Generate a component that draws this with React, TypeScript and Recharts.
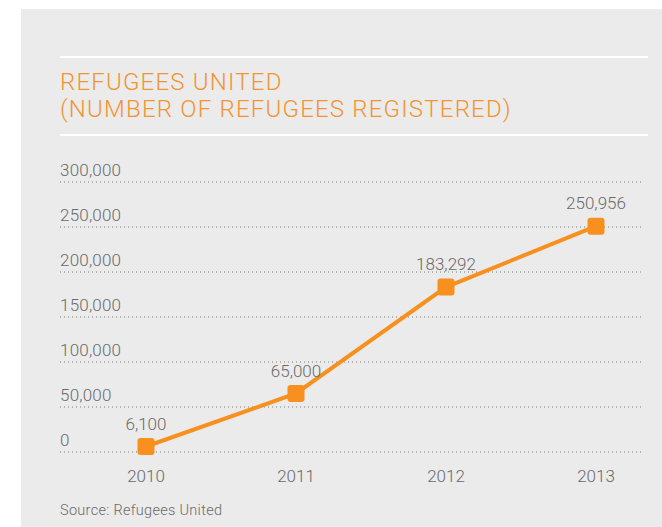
import React from "react";
import { LineChart, Line, XAxis, YAxis, CartesianGrid, LabelList } from "recharts";

const years = ["2010", "2011", "2012", "2013"];
const refugees = [6100, 65000, 183292, 250956];
const yTicks = [0, 50000, 100000, 150000, 200000, 250000, 300000];

const data = years.map((year, i) => ({ year, value: refugees[i] }));

const ORANGE = "#f7901e";
const TITLE = "#f39433";
const GRAY = "#6a6a6a";
const FONT = "Roboto, 'Liberation Sans', Arial, Helvetica, sans-serif";
const TITLE_FONT = "Roboto, 'Liberation Sans', Arial, sans-serif";

const fmt = (v: number) => v.toLocaleString("en-US");

const YTick = (props: any) => {
  const { y, payload } = props;
  return (
    <text x={60} y={y - 6} textAnchor="start" fill={GRAY} fontSize={17} fontWeight={300} fontFamily={FONT} letterSpacing={0.2}>
      {fmt(payload.value)}
    </text>
  );
};

const XTick = (props: any) => {
  const { x, y, payload } = props;
  return (
    <text x={x} y={y + 30} textAnchor="middle" fill={GRAY} fontSize={17} fontWeight={300} fontFamily={FONT}>
      {payload.value}
    </text>
  );
};

const SquareDot = (props: any) => {
  const { cx, cy, index } = props;
  const s = 17;
  return <rect key={index} x={cx - s / 2} y={cy - s / 2} width={s} height={s} rx={3} fill={ORANGE} />;
};

const ValueLabel = (props: any) => {
  const { x, y, value } = props;
  return (
    <text x={x} y={y - 17} textAnchor="middle" fill={GRAY} fontSize={17} fontWeight={300} fontFamily={FONT}>
      {fmt(value)}
    </text>
  );
};

export default function App() {
  return (
    <div style={{ position: "absolute", left: 0, top: 0, width: 662, height: 527, background: "#fff", overflow: "hidden" }}>
      <div style={{ position: "absolute", left: 21, top: 9, width: 641, height: 518, background: "#ebebeb" }} />
      <div style={{ position: "absolute", left: 60, top: 56, width: 588, height: 2, background: "#fff" }} />
      <div style={{ position: "absolute", left: 60, top: 134, width: 588, height: 2, background: "#fff" }} />
      <div
        style={{
          position: "absolute",
          left: 60,
          top: 69,
          color: TITLE,
          fontFamily: TITLE_FONT,
          fontSize: 24,
          lineHeight: "27px",
          fontWeight: 300,
          letterSpacing: "1.2px",
          whiteSpace: "nowrap",
        }}
      >
        REFUGEES UNITED
        <br />
        (NUMBER OF REFUGEES REGISTERED)
      </div>
      <div
        style={{
          position: "absolute",
          left: 60,
          top: 502,
          color: GRAY,
          fontFamily: FONT,
          fontSize: 14.5,
          fontWeight: 300,
          letterSpacing: "0.3px",
          whiteSpace: "nowrap",
        }}
      >
        Source: Refugees United
      </div>
      <div style={{ position: "absolute", left: 0, top: 0 }}>
        <LineChart width={662} height={527} data={data} margin={{ top: 182, right: 19, bottom: 0, left: 0 }}>
          <CartesianGrid vertical={false} stroke="#7a7a7a" strokeDasharray="1 3" />
          <XAxis
            dataKey="year"
            axisLine={false}
            tickLine={false}
            tickSize={0}
            tickMargin={0}
            height={75}
            padding={{ left: 86, right: 47 }}
            tick={<XTick />}
            interval={0}
          />
          <YAxis
            domain={[0, 300000]}
            ticks={yTicks}
            axisLine={false}
            tickLine={false}
            tickSize={0}
            width={60}
            tick={<YTick />}
            interval={0}
          />
          <Line
            type="linear"
            dataKey="value"
            stroke={ORANGE}
            strokeWidth={4}
            dot={<SquareDot />}
            activeDot={false}
            isAnimationActive={false}
          >
            <LabelList dataKey="value" content={<ValueLabel />} />
          </Line>
        </LineChart>
      </div>
    </div>
  );
}
